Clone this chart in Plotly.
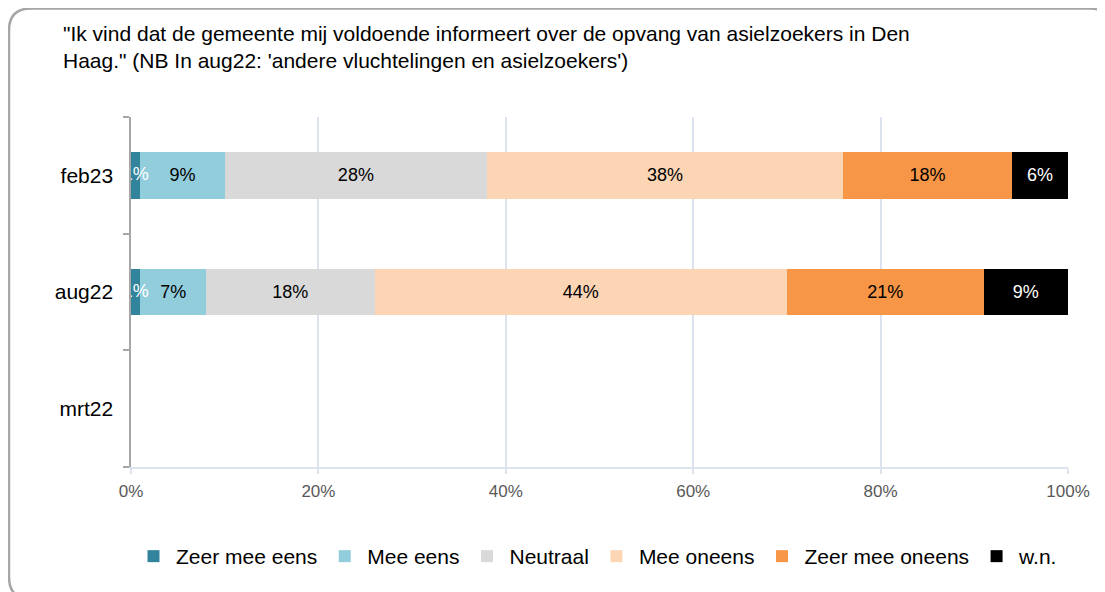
import plotly.graph_objects as go

# survey waves, bottom to top
periods = ["mrt22", "aug22", "feb23"]

answers = ["Zeer mee eens", "Mee eens", "Neutraal", "Mee oneens", "Zeer mee oneens", "w.n."]
colors = ["#31849B", "#92CDDC", "#D9D9D9", "#FCD5B5", "#F79646", "#000000"]
label_colors = ["white", "black", "black", "black", "black", "white"]

# percentages per answer, in the order of periods (mrt22 has no data)
zeer_mee_eens = [None, 1, 1]
mee_eens = [None, 7, 9]
neutraal = [None, 18, 28]
mee_oneens = [None, 44, 38]
zeer_mee_oneens = [None, 21, 18]
wn = [None, 9, 6]

series = [zeer_mee_eens, mee_eens, neutraal, mee_oneens, zeer_mee_oneens, wn]

x_ticks = [0, 20, 40, 60, 80, 100]
x_tick_labels = ["0%", "20%", "40%", "60%", "80%", "100%"]

title_text = ('"Ik vind dat de gemeente mij voldoende informeert over de opvang van asielzoekers in Den<br>'
              "Haag.\" (NB In aug22: 'andere vluchtelingen en asielzoekers')")

FONT = "Liberation Sans, Arial, sans-serif"


def pct(vals):
    return [f"{v}%" if v is not None else "" for v in vals]


fig = go.Figure()
for idx, (name, vals, col, tcol) in enumerate(zip(answers, series, colors, label_colors)):
    fig.add_trace(go.Bar(
        y=periods, x=vals, name=name, orientation="h",
        marker=dict(color=col, line=dict(width=0)),
        text=pct(vals),
        # the tiny first segment gets its label from a text trace below
        textposition="none" if idx == 0 else "inside",
        insidetextanchor="middle", textangle=0,
        textfont=dict(color=tcol, size=18, family=FONT),
        hoverinfo="x+y+name",
    ))

# label of the thin first segment: centred on it, overflowing and clipped by the axis
fig.add_trace(go.Scatter(
    x=[v / 2 if v is not None else None for v in zeer_mee_eens], y=periods,
    mode="text", text=pct(zeer_mee_eens), cliponaxis=True,
    textfont=dict(color=label_colors[0], size=18, family=FONT),
    showlegend=False, hoverinfo="skip",
))

# plot area in pixels (for the decorative frame)
W, H = 1105, 592
ml, mr, mt, mb = 123, 45, 109, 133
pw, ph = W - ml - mr, H - mt - mb

def px(x):
    return (x - ml) / pw

def py(y):
    return (H - mb - y) / ph

x0, x1, y0, y1, r = 1, 1104, 0.5, 591, 22
frame = (f"M {px(x0)},{py(y0 + r)} Q {px(x0)},{py(y0)} {px(x0 + r)},{py(y0)} "
         f"L {px(x1 - r)},{py(y0)} Q {px(x1)},{py(y0)} {px(x1)},{py(y0 + r)} "
         f"L {px(x1)},{py(y1 - r)} Q {px(x1)},{py(y1)} {px(x1 - r)},{py(y1)} "
         f"L {px(x0 + r)},{py(y1)} Q {px(x0)},{py(y1)} {px(x0)},{py(y1 - r)} Z")

fig.update_layout(
    barmode="stack",
    bargap=0.6,
    width=W, height=H,
    margin=dict(l=ml, r=mr, t=mt, b=mb),
    paper_bgcolor="white",
    plot_bgcolor="white",
    font=dict(family=FONT, color="#000000"),
    title=dict(text=title_text, xref="container", yref="container",
               x=55 / W, xanchor="left", y=1 - 33 / H, yanchor="top",
               font=dict(size=21, color="#000000")),
    xaxis=dict(range=[0, 100], tickvals=x_ticks, ticktext=x_tick_labels,
               showgrid=True, gridcolor="#DCE3EE", gridwidth=2,
               showline=True, linecolor="#DCE3EE", linewidth=2,
               ticks="outside", ticklen=5, tickcolor="#DCE3EE", tickwidth=2,
               ticklabelstandoff=3,
               tickfont=dict(size=17, color="#595959"), zeroline=False,
               fixedrange=True),
    yaxis=dict(categoryorder="array", categoryarray=periods,
               range=[-0.5, 2.5], showline=True, linecolor="#A6A6A6", linewidth=2,
               ticks="outside", tickson="boundaries", ticklen=6, tickcolor="#A6A6A6",
               tickwidth=2, tickfont=dict(size=21, color="#000000"),
               showgrid=False, ticksuffix="  ", fixedrange=True),
    legend=dict(orientation="h", x=0, xanchor="left",
                y=py(528), yanchor="top", itemwidth=35,
                font=dict(size=21, color="#000000"), traceorder="normal",
                itemclick=False, itemdoubleclick=False),
    shapes=[dict(type="path", xref="paper", yref="paper", path=frame,
                 line=dict(color="#A6A6A6", width=2.5), layer="below")],
)

fig.write_html("out.html")
